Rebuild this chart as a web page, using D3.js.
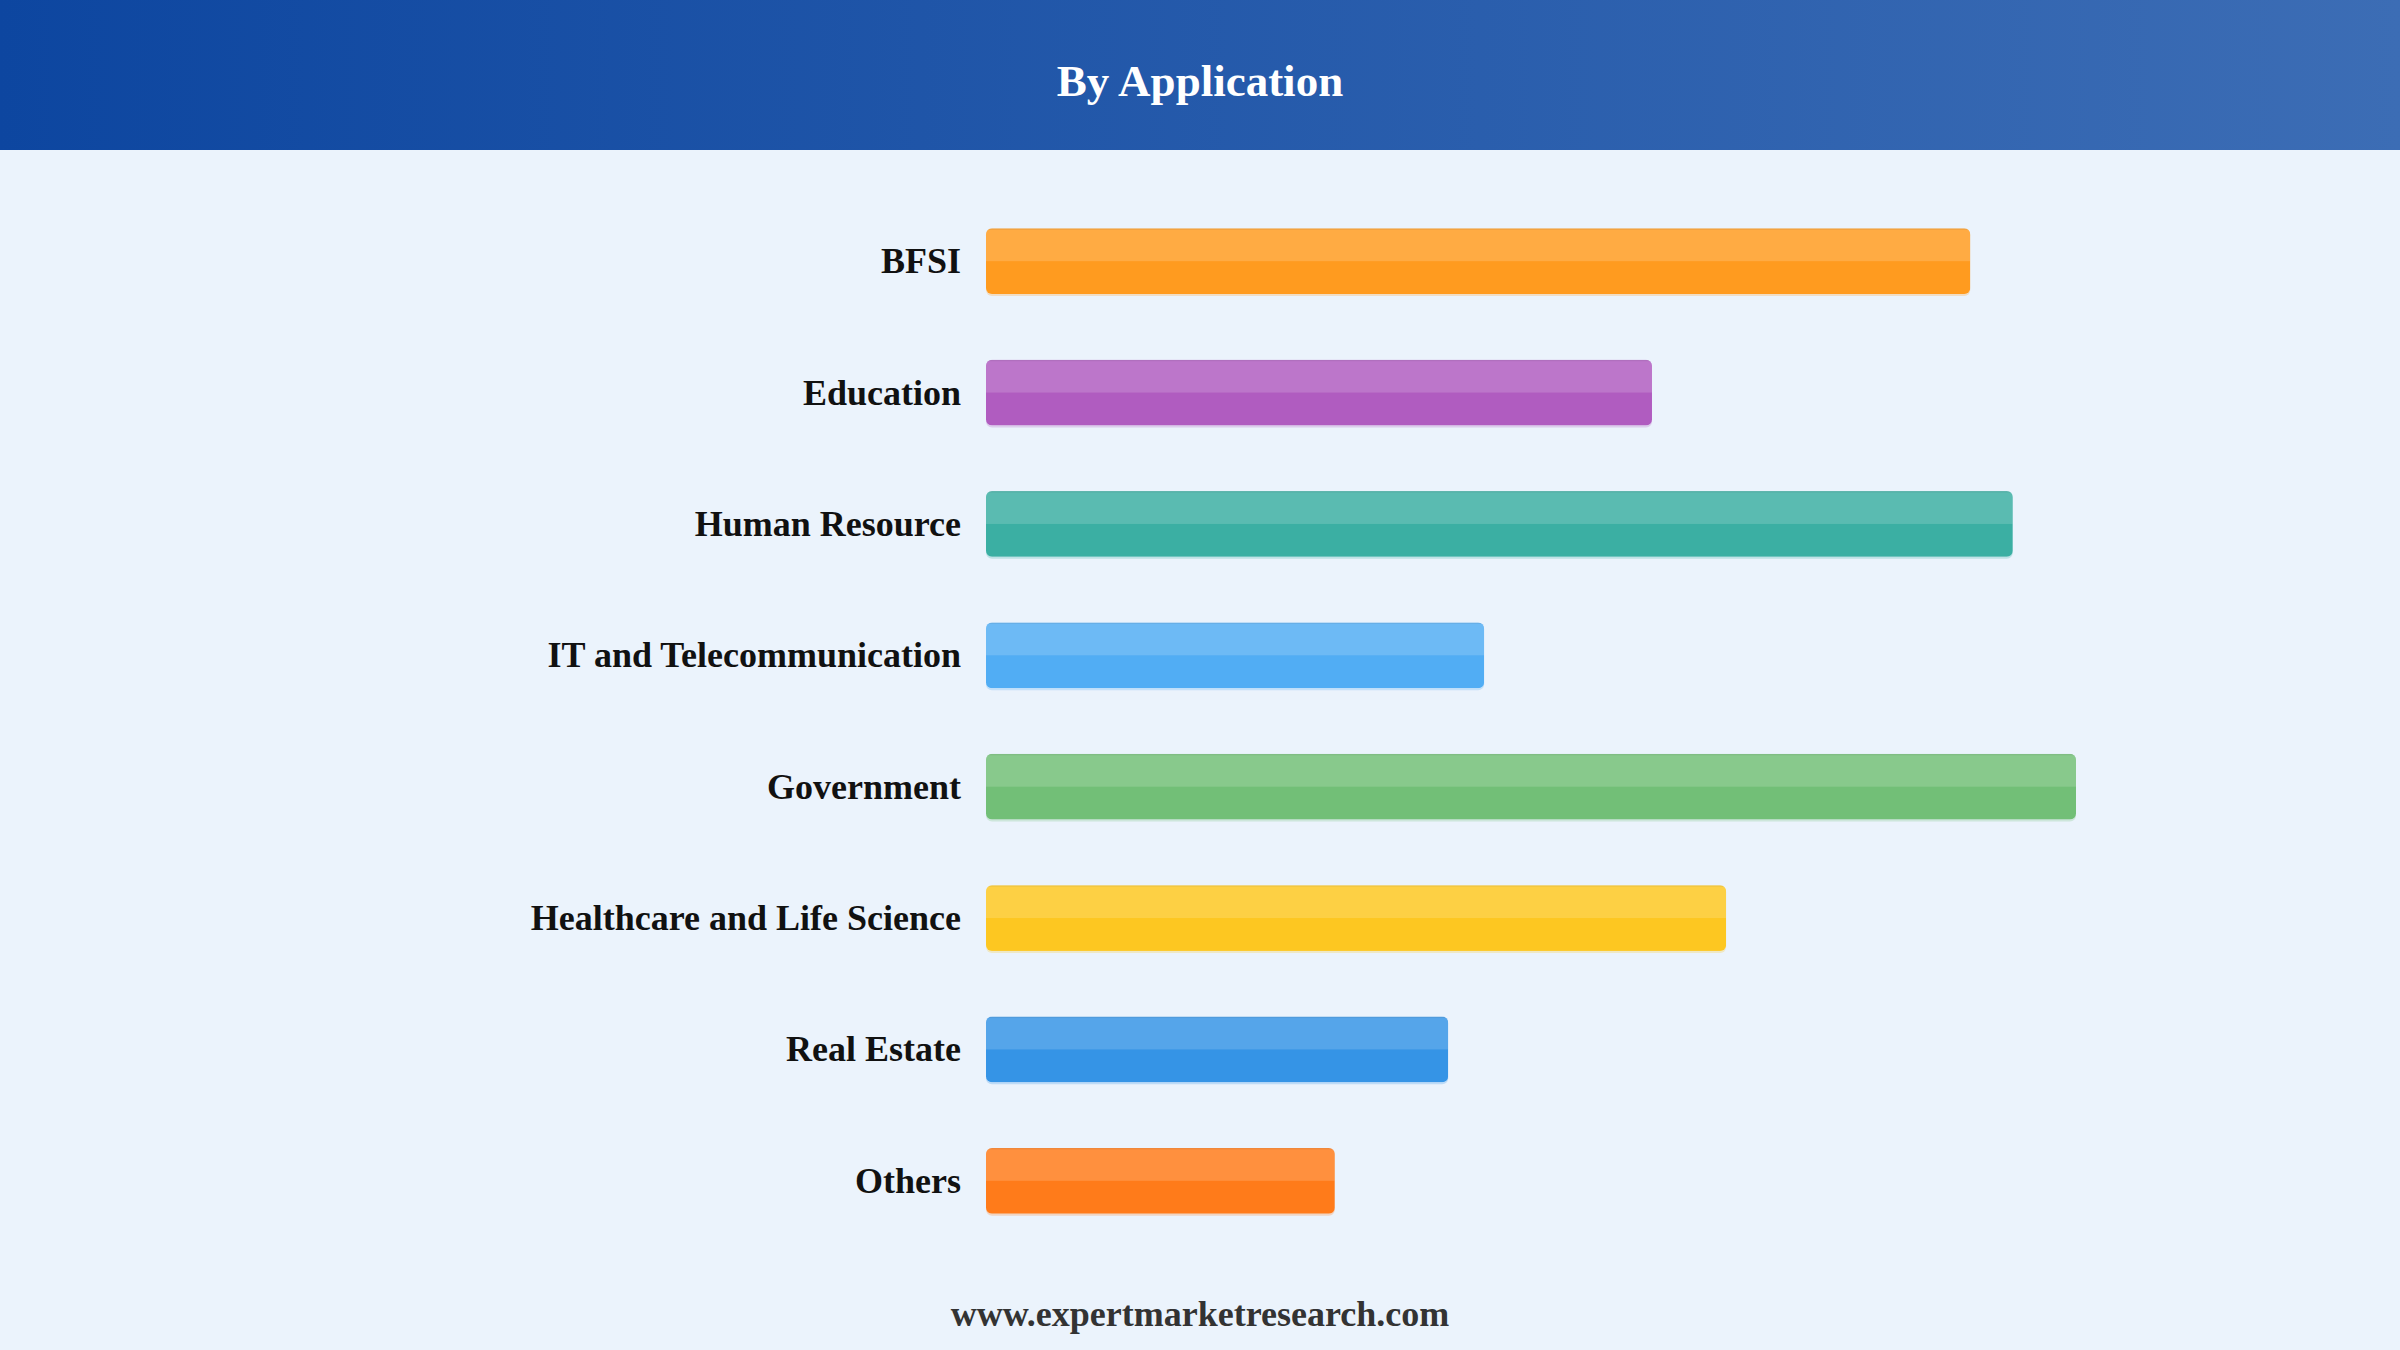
<!DOCTYPE html>
<html>
<head>
<meta charset="utf-8">
<script src="https://cdn.jsdelivr.net/npm/d3@7"></script>
<style>
  html, body { margin: 0; padding: 0; background: #EBF3FC; }
  svg { display: block; }
</style>
</head>
<body>
<svg id="chart" width="2400" height="1350"></svg>
<script>
// ---- data ----
const categories = ["BFSI", "Education", "Human Resource", "IT and Telecommunication", "Government", "Healthcare and Life Science", "Real Estate", "Others"];
const values = [90.3, 61.1, 94.2, 45.7, 100, 67.9, 42.4, 32.0];
const barColors = ["#FF9B1F", "#B05CC0", "#3BAFA3", "#51ADF4", "#72BF77", "#FDC721", "#3594E6", "#FF7B1A"];
const titleText = "By Application";
const footerText = "www.expertmarketresearch.com";

const W = 2400, H = 1350;
const svg = d3.select("#chart");
const defs = svg.append("defs");

// background
svg.append("rect").attr("width", W).attr("height", H).attr("fill", "#EBF3FC");

// header gradient
const grad = defs.append("linearGradient").attr("id", "hdr").attr("x1", "0%").attr("x2", "100%").attr("y1", "0%").attr("y2", "0%");
grad.append("stop").attr("offset", "0%").attr("stop-color", "#0D46A0");
grad.append("stop").attr("offset", "100%").attr("stop-color", "#3C6DB5");
svg.append("rect").attr("x", 0).attr("y", 0).attr("width", W).attr("height", 150).attr("fill", "url(#hdr)");

svg.append("text")
  .attr("x", W / 2).attr("y", 96)
  .attr("text-anchor", "middle")
  .attr("font-family", "'Liberation Serif', 'Times New Roman', serif")
  .attr("font-weight", "bold")
  .attr("font-size", 45)
  .attr("fill", "#ffffff")
  .text(titleText);

// scales
const x = d3.scaleLinear().domain([0, 100]).range([986, 2076]);
const y = d3.scaleBand().domain(categories).range([195.5, 1246.5]).paddingInner(0.5).paddingOuter(0.25);

const rows = svg.append("g").selectAll("g.row")
  .data(categories.map((c, i) => ({ c, v: values[i], col: barColors[i], i })))
  .join("g").attr("class", "row");

rows.each(function (d) {
  const g = d3.select(this);
  const x0 = x(0), w = x(d.v) - x(0), y0 = y(d.c), h = y.bandwidth();
  const cid = "clip" + d.i;
  defs.append("clipPath").attr("id", cid)
    .append("rect").attr("x", x0).attr("y", y0).attr("width", w).attr("height", h).attr("rx", 6).attr("ry", 6);
  // subtle shadow line below
  g.append("rect").attr("x", x0).attr("y", y0 + 1).attr("width", w).attr("height", h + 1)
    .attr("rx", 6).attr("fill", d.col).attr("opacity", 0.25);
  const inner = g.append("g").attr("clip-path", `url(#${cid})`);
  inner.append("rect").attr("x", x0).attr("y", y0).attr("width", w).attr("height", h).attr("fill", d.col);
  inner.append("rect").attr("x", x0).attr("y", y0).attr("width", w).attr("height", h / 2).attr("fill", "#ffffff").attr("opacity", 0.16);
  inner.append("rect").attr("x", x0).attr("y", y0).attr("width", w).attr("height", 1.5).attr("fill", "#000").attr("opacity", 0.06);

  g.append("text")
    .attr("x", x0 - 25).attr("y", y0 + h / 2 + 12)
    .attr("text-anchor", "end")
    .attr("font-family", "'Liberation Serif', 'Times New Roman', serif")
    .attr("font-weight", "bold")
    .attr("font-size", 36)
    .attr("fill", "#111111")
    .text(d.c);
});

svg.append("text")
  .attr("x", W / 2).attr("y", 1326)
  .attr("text-anchor", "middle")
  .attr("font-family", "'Liberation Serif', 'Times New Roman', serif")
  .attr("font-weight", "bold")
  .attr("font-size", 36)
  .attr("fill", "#333333")
  .text(footerText);
</script>
</body>
</html>
